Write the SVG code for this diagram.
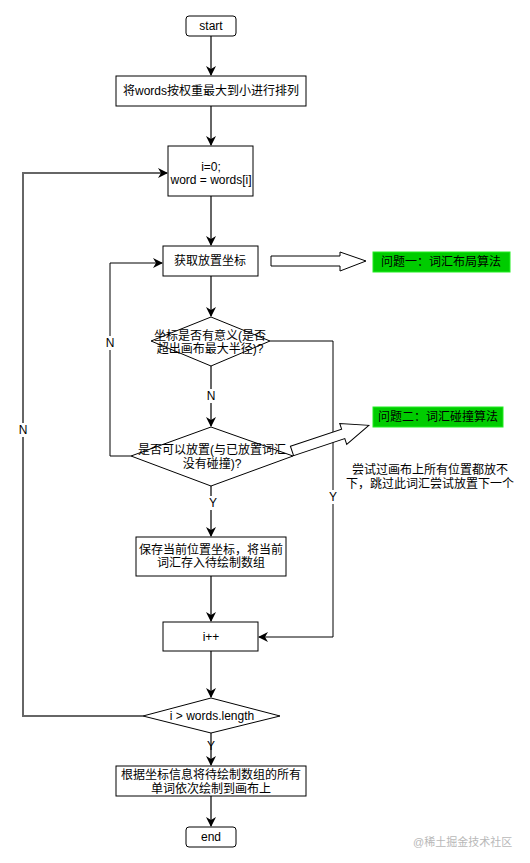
<svg xmlns="http://www.w3.org/2000/svg" width="530" height="863" viewBox="0 0 530 863">
<style>
text{font-family:"Liberation Sans","Noto Sans CJK SC",sans-serif;font-size:12px;fill:#000;text-anchor:middle}
.box{fill:#fff;stroke:#000;stroke-width:1}
.gbox{fill:#0c0;stroke:#2e2;stroke-width:1}
.main{fill:none;stroke:#666;stroke-width:2}
.thin{fill:none;stroke:#000;stroke-width:1}
.blk{fill:#fff;stroke:#000;stroke-width:1}
.lbg{fill:#fff}
.wm{fill:#b8b8b8;font-size:11px;text-anchor:start}
</style>
<defs>
<marker id="ah" viewBox="0 0 10 10" refX="9" refY="5" markerWidth="10" markerHeight="10" markerUnits="userSpaceOnUse" orient="auto">
<path d="M0,0 L10,5 L0,10 L3,5 z" fill="#000"/>
</marker>
</defs>
<rect width="530" height="863" fill="#fff"/>
<g id="connectors">
<path class="main" d="M211,36 V75" marker-end="url(#ah)"/>
<path class="main" d="M211,106 V145" marker-end="url(#ah)"/>
<path class="main" d="M211,196 V245" marker-end="url(#ah)"/>
<path class="main" d="M211,276 V316" marker-end="url(#ah)"/>
<path class="main" d="M211,366 V426" marker-end="url(#ah)"/>
<path class="main" d="M211,486 V536" marker-end="url(#ah)"/>
<path class="main" d="M211,576 V621" marker-end="url(#ah)"/>
<path class="main" d="M211,651 V697" marker-end="url(#ah)"/>
<path class="main" d="M211,733 V765" marker-end="url(#ah)"/>
<path class="main" d="M211,796 V826" marker-end="url(#ah)"/>
<path class="thin" d="M270,341 H333 V637 H259" marker-end="url(#ah)"/>
<path class="thin" d="M131,456 H110 V263 H162" marker-end="url(#ah)"/>
<path class="main" d="M143,716 H23 V173 H167" marker-end="url(#ah)"/>
<rect class="lbg" x="205" y="389" width="12" height="14"/><text x="211" y="400">N</text>
<rect class="lbg" x="104" y="336" width="12" height="14"/><text x="110" y="347">N</text>
<rect class="lbg" x="207" y="496" width="12" height="14"/><text x="213" y="507">Y</text>
<rect class="lbg" x="327" y="490" width="12" height="14"/><text x="333" y="501">Y</text>
<rect class="lbg" x="17" y="423" width="12" height="14"/><text x="23" y="434">N</text>
<text x="211" y="750">Y</text>
</g>
<g id="start"><rect class="box" x="186" y="16" width="50" height="20" rx="3"/><text x="211" y="30">start</text></g>
<g id="sort"><rect class="box" x="116" y="76" width="190" height="30" stroke="#333"/><text x="211" y="95">将words按权重最大到小进行排列</text></g>
<g id="init"><rect class="box" x="168" y="146" width="85" height="50"/><text x="211" y="171">i=0;</text><text x="211" y="184">word = words[i]</text></g>
<g id="getpos"><rect class="box" x="163" y="246" width="95" height="30"/><text x="210" y="265">获取放置坐标</text></g>
<g id="arrow1"><polygon class="blk" points="271,256 340,256 340,252 366,261 340,271 340,266 271,266"/></g>
<g id="q1"><rect class="gbox" x="373" y="252" width="137" height="20"/><text x="441" y="266">问题一：词汇布局算法</text></g>
<g id="dec1"><polygon class="box" points="211,317 270,341 211,366 151,341"/><text x="210" y="340">坐标是否有意义(是否</text><text x="210" y="353">超出画布最大半径)?</text></g>
<g id="dec2"><polygon class="box" points="211,427 293,456 211,486 131,456"/><text x="212" y="454">是否可以放置(与已放置词汇</text><text x="212" y="468">没有碰撞)?</text></g>
<g id="arrow2"><polygon class="blk" transform="translate(292,451) rotate(-18.5)" points="0,-5 54,-5 54,-11 81,0 54,11 54,5 0,5"/></g>
<g id="q2"><rect class="gbox" x="373" y="407" width="130" height="20"/><text x="438" y="421">问题二：词汇碰撞算法</text></g>
<g id="note"><text x="430" y="474">尝试过画布上所有位置都放不</text><text x="430" y="488">下，跳过此词汇尝试放置下一个</text></g>
<g id="save"><rect class="box" x="136" y="537" width="150" height="39"/><text x="211" y="554">保存当前位置坐标，将当前</text><text x="211" y="567">词汇存入待绘制数组</text></g>
<g id="inc"><rect class="box" x="163" y="622" width="95" height="29"/><text x="211" y="641">i++</text></g>
<g id="dec3"><polygon class="box" points="211,698 280,716 211,733 143,716"/><text x="212" y="720">i &gt; words.length</text></g>
<g id="draw"><rect class="box" x="116" y="766" width="190" height="30" stroke="#333"/><text x="211" y="779">根据坐标信息将待绘制数组的所有</text><text x="211" y="793">单词依次绘制到画布上</text></g>
<g id="end"><rect class="box" x="186" y="827" width="50" height="20" rx="3"/><text x="211" y="841">end</text></g>
<text class="wm" x="413" y="846">@稀土掘金技术社区</text>
</svg>
